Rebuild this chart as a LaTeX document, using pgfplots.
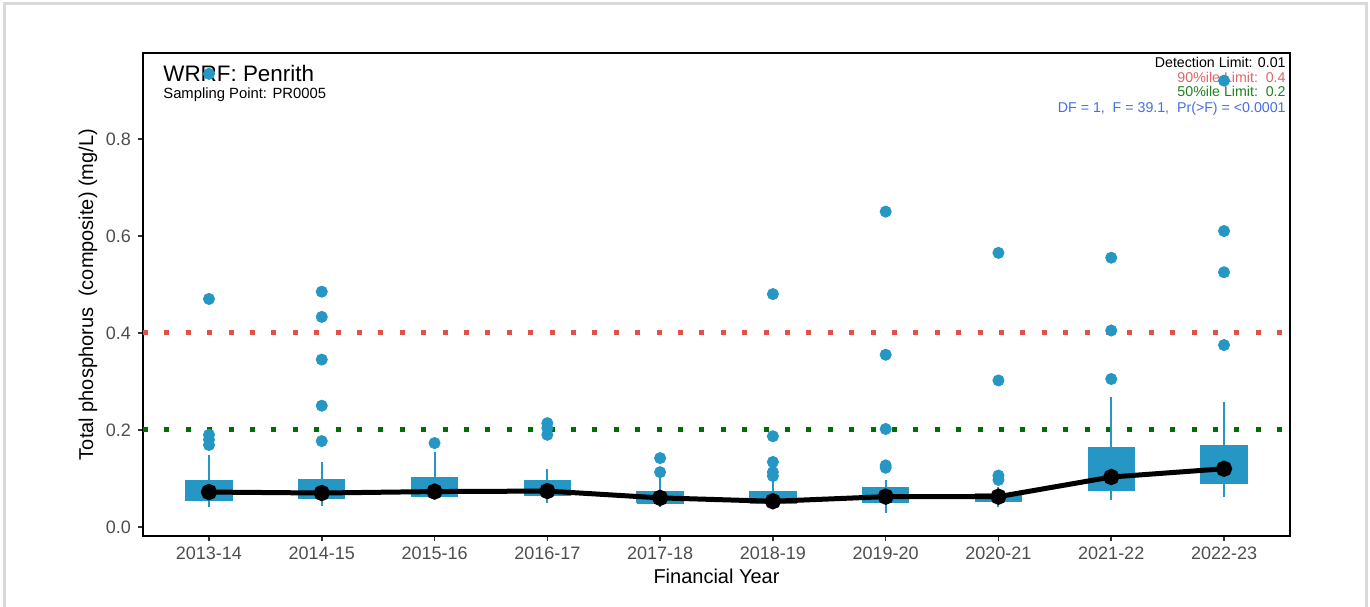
\documentclass[border=0pt]{standalone}
\usepackage{pgfplots}
\pgfplotsset{compat=1.18}
\usepackage{fontspec}
\setmainfont{Liberation Sans}

\definecolor{boxblue}{RGB}{38,150,196}
\definecolor{limred}{RGB}{224,82,72}
\definecolor{limgreen}{RGB}{0,110,0}
\definecolor{txtred}{RGB}{226,100,100}
\definecolor{txtgreen}{RGB}{30,130,30}
\definecolor{txtblue}{RGB}{70,110,225}
\definecolor{ticktxt}{RGB}{77,77,77}
\definecolor{framegray}{RGB}{217,217,217}

% box: left edge, right edge, centre, lower whisker, Q1, Q3, upper whisker
\newcommand{\tpbox}[7]{%
  \addplot[boxblue, line width=1bp] coordinates {(#3,#4) (#3,#7)};
  \addplot[fill=boxblue, draw=boxblue, line width=0.5bp] coordinates {(#1,#5) (#2,#5) (#2,#6) (#1,#6) (#1,#5)};
}

\begin{document}
\begin{tikzpicture}
\path[use as bounding box] (-71.5bp,-35.5bp) rectangle (613.5bp,268bp);
\draw[framegray, line width=1.5bp] (-69.25bp,-36bp) -- (-69.25bp,266bp) -- (611.75bp,266bp) -- (611.75bp,-36bp);

% header texts
\node[anchor=base west, font=\fontsize{11.2bp}{13bp}\selectfont, inner sep=0pt] at (10bp,227bp) {WRRF: Penrith};
\node[anchor=base west, font=\fontsize{7.4bp}{9bp}\selectfont, inner sep=0pt] at (10bp,218.5bp) {Sampling Point: PR0005};
\node[anchor=base east, font=\fontsize{7.1bp}{9bp}\selectfont, inner sep=0pt] at (571.5bp,234bp) {Detection Limit: 0.01};
\node[anchor=base east, font=\fontsize{7.1bp}{9bp}\selectfont, inner sep=0pt, text=txtred] at (571.5bp,226.5bp) {90\%ile Limit:\ \ 0.4};
\node[anchor=base east, font=\fontsize{7.1bp}{9bp}\selectfont, inner sep=0pt, text=txtgreen] at (571.5bp,219.5bp) {50\%ile Limit:\ \ 0.2};
\node[anchor=base east, font=\fontsize{7.1bp}{9bp}\selectfont, inner sep=0pt, text=txtblue] at (571.5bp,211.5bp) {DF = 1,\ \ F = 39.1,\ \ Pr(>F) = <0.0001};

\begin{axis}[
    at={(0,0)}, anchor=south west,
    scale only axis,
    width=573.5bp, height=241.5bp,
    xmin=0.415, xmax=10.585,
    ymin=-0.0186, ymax=0.977,
    axis line style={black, line width=1bp},
    xtick={1,...,10},
    xticklabels={2013-14,2014-15,2015-16,2016-17,2017-18,2018-19,2019-20,2020-21,2021-22,2022-23},
    ytick={0,0.2,0.4,0.6,0.8},
    yticklabel style={/pgf/number format/fixed, /pgf/number format/fixed zerofill,
      /pgf/number format/precision=1},
    /pgf/number format/assume math mode=true,
    tick align=outside,
    tick pos=left,
    major tick length=2.5bp,
    tick style={black!80, line width=0.8bp},
    ticklabel style={font=\fontsize{9bp}{10.8bp}\selectfont, text=ticktxt},
    xticklabel style={yshift=0.5bp},
    xlabel={Financial Year},
    ylabel={Total phosphorus\ \ (composite) (mg/L)},
    label style={font=\fontsize{10bp}{12bp}\selectfont},
    xlabel style={yshift=2bp},
    ylabel style={yshift=-2.5bp},
    clip=false,
  ]
  \addplot[limred, line width=2.5bp, dash pattern=on 2.5bp off 8.2bp] coordinates {(0.415,0.4) (10.585,0.4)};
  \addplot[limgreen, line width=2.5bp, dash pattern=on 2.5bp off 8.2bp] coordinates {(0.415,0.2) (10.585,0.2)};

  \tpbox{0.795}{1.205}{1}{0.041}{0.054}{0.095}{0.148}
  \tpbox{1.795}{2.205}{2}{0.043}{0.058}{0.097}{0.134}
  \tpbox{2.795}{3.205}{3}{0.058}{0.062}{0.103}{0.155}
  \tpbox{3.795}{4.205}{4}{0.049}{0.064}{0.095}{0.120}
  \tpbox{4.795}{5.205}{5}{0.041}{0.049}{0.074}{0.100}
  \tpbox{5.795}{6.205}{6}{0.045}{0.049}{0.074}{0.095}
  \tpbox{6.795}{7.205}{7}{0.029}{0.050}{0.081}{0.097}
  \tpbox{7.795}{8.205}{8}{0.042}{0.052}{0.070}{0.083}
  \tpbox{8.795}{9.205}{9}{0.056}{0.076}{0.163}{0.268}
  \tpbox{9.795}{10.205}{10}{0.062}{0.089}{0.167}{0.258}

  \addplot[only marks, mark=*, mark size=2.8bp, boxblue] coordinates {
    (1,0.934) (1,0.470) (1,0.190) (1,0.180) (1,0.169)
    (2,0.485) (2,0.433) (2,0.345) (2,0.250) (2,0.177)
    (3,0.173)
    (4,0.214) (4,0.204) (4,0.190)
    (5,0.142) (5,0.113)
    (6,0.480) (6,0.187) (6,0.134) (6,0.113) (6,0.105)
    (7,0.650) (7,0.355) (7,0.202) (7,0.127) (7,0.122)
    (8,0.565) (8,0.302) (8,0.106) (8,0.097)
    (9,0.555) (9,0.405) (9,0.305)
    (10,0.920) (10,0.610) (10,0.525) (10,0.375)
  };

  \addplot[black, line width=2.5bp, mark=*, mark size=2.8bp] coordinates {
    (1,0.072) (2,0.070) (3,0.073) (4,0.074) (5,0.060)
    (6,0.053) (7,0.0625) (8,0.0625) (9,0.103) (10,0.120)
  };
\end{axis}
\end{tikzpicture}
\end{document}
